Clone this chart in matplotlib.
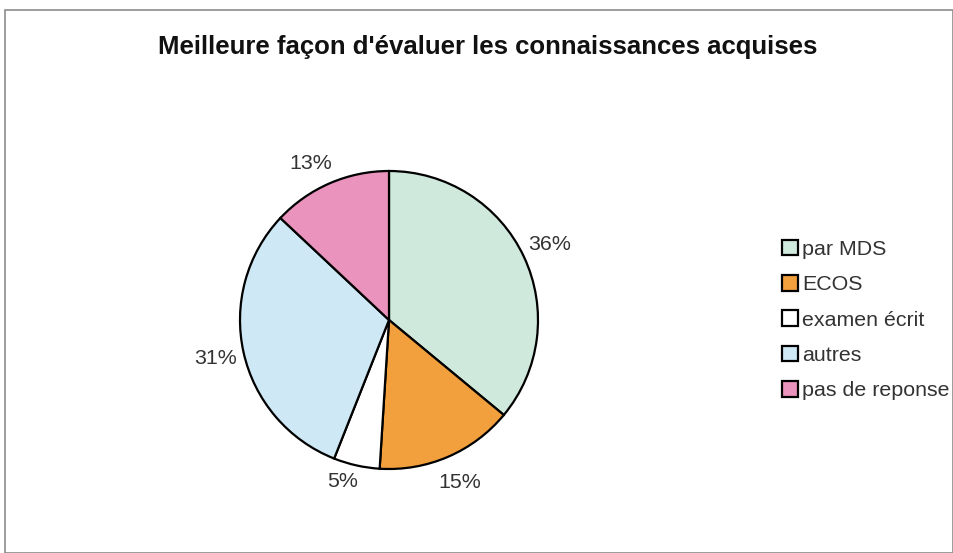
import matplotlib
matplotlib.use("Agg")
import matplotlib.pyplot as plt
from matplotlib.patches import Rectangle, Patch

plt.rcParams['font.family'] = ['Liberation Sans', 'DejaVu Sans']

title = "Meilleure façon d'évaluer les connaissances acquises"
categories = ["par MDS", "ECOS", "examen écrit", "autres", "pas de reponse"]
values = [36, 15, 5, 31, 13]
colors = ["#cfe9dc", "#f2a03e", "#ffffff", "#cfe8f5", "#e993bd"]

W, H = 954, 553
fig = plt.figure(figsize=(W / 100, H / 100), dpi=100)
fig.patch.set_facecolor("white")

# outer chart frame
fig.add_artist(Rectangle((5 / W, 0), (W - 6) / W, (H - 10) / H,
                         transform=fig.transFigure, fill=False,
                         edgecolor="#8c8c8c", linewidth=1.2))

fig.text(488 / W, 1 - 47 / H, title, ha="center", va="center",
         fontsize=18.5, fontweight="bold", color="#111111")

cx, cy, r = 389, 320, 149
ax = fig.add_axes([(cx - r) / W, (H - cy - r) / H, 2 * r / W, 2 * r / H])
wedges, _, pcts = ax.pie(values, colors=colors, startangle=90, counterclock=False,
                         autopct="%d%%", pctdistance=1.19,
                         wedgeprops=dict(edgecolor="black", linewidth=1.6),
                         textprops=dict(fontsize=15.4, color="#333333"))
ax.set_xlim(-1, 1)
ax.set_ylim(-1, 1)
ax.set_aspect("equal")
ax.axis("off")

# pull the two crowded labels slightly apart from their neighbours
x, y = pcts[2].get_position()
pcts[2].set_position((x - 0.05, y + 0.08))
x, y = pcts[4].get_position()
pcts[4].set_position((x - 0.05, y - 0.04))

handles = [Patch(facecolor=c, edgecolor="black", linewidth=1.6) for c in colors]
fig.legend(handles, categories, loc="center left",
           bbox_to_anchor=(782 / W, 1 - 320 / H), frameon=False,
           fontsize=15.4, handlelength=0.75, handleheight=0.75,
           handletextpad=0.2, labelspacing=0.75, borderpad=0, borderaxespad=0,
           labelcolor="#333333")

fig.savefig("out.png", dpi=100)
